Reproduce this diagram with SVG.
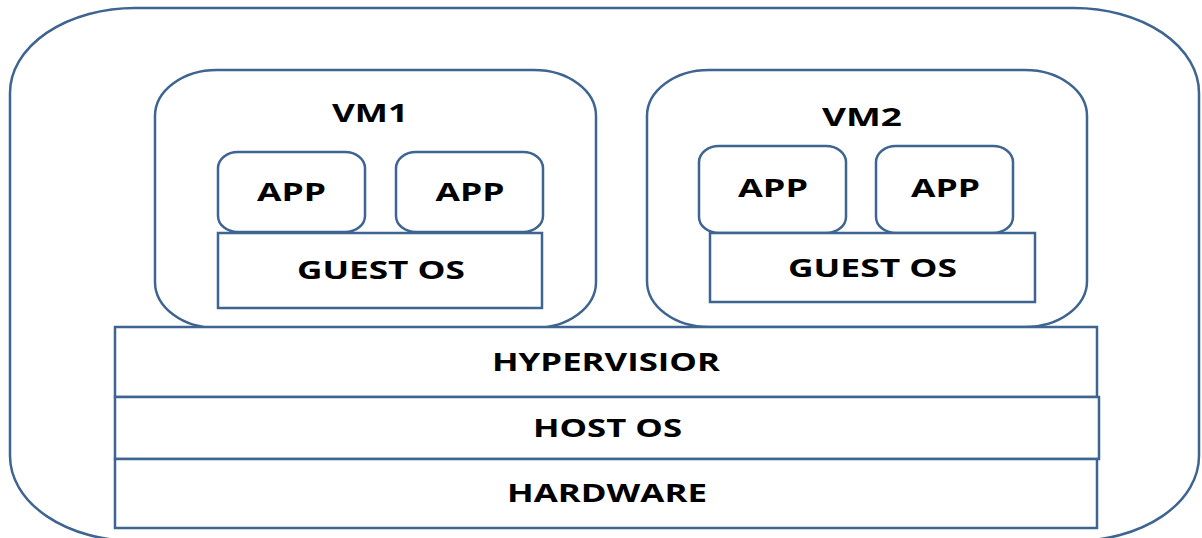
<svg xmlns="http://www.w3.org/2000/svg" width="1202" height="538" viewBox="0 0 1202 538">
  <style>
    .box { fill: #ffffff; stroke: #3e6491; stroke-width: 2.5; }
    .lbl { font-family: "Open Sans", "Liberation Sans", sans-serif; font-weight: 700; font-size: 24.5px; fill: #000000; text-anchor: middle; }
  </style>
  <rect width="1202" height="538" fill="#ffffff"/>

  <!-- host machine boundary -->
  <g id="host">
    <rect class="box" x="10" y="8" width="1189" height="533" rx="125" ry="85"/>
  </g>

  <!-- virtual machine 1 -->
  <g id="vm1">
    <rect class="box" x="155" y="70" width="441" height="258" rx="62" ry="46"/>
    <text class="lbl" x="370" y="122" textLength="76" lengthAdjust="spacingAndGlyphs">VM1</text>
  </g>
  <g id="vm1-app1">
    <rect class="box" x="218" y="152" width="147" height="80" rx="20" ry="16"/>
    <text class="lbl" x="291.5" y="201" textLength="69" lengthAdjust="spacingAndGlyphs">APP</text>
  </g>
  <g id="vm1-app2">
    <rect class="box" x="396" y="152" width="147" height="80" rx="20" ry="16"/>
    <text class="lbl" x="470" y="201" textLength="69" lengthAdjust="spacingAndGlyphs">APP</text>
  </g>
  <g id="vm1-guest-os">
    <rect class="box" x="218" y="233" width="324" height="75"/>
    <text class="lbl" x="381" y="279" textLength="168" lengthAdjust="spacingAndGlyphs">GUEST OS</text>
  </g>

  <!-- virtual machine 2 -->
  <g id="vm2">
    <rect class="box" x="647" y="70" width="440" height="257" rx="62" ry="46"/>
    <text class="lbl" x="862" y="126" textLength="80" lengthAdjust="spacingAndGlyphs">VM2</text>
  </g>
  <g id="vm2-app1">
    <rect class="box" x="699" y="146" width="147" height="87" rx="20" ry="16"/>
    <text class="lbl" x="773" y="197" textLength="70" lengthAdjust="spacingAndGlyphs">APP</text>
  </g>
  <g id="vm2-app2">
    <rect class="box" x="876" y="146" width="137" height="87" rx="20" ry="16"/>
    <text class="lbl" x="945.5" y="197" textLength="69" lengthAdjust="spacingAndGlyphs">APP</text>
  </g>
  <g id="vm2-guest-os">
    <rect class="box" x="710" y="233" width="325" height="69"/>
    <text class="lbl" x="872.5" y="277" textLength="169" lengthAdjust="spacingAndGlyphs">GUEST OS</text>
  </g>

  <!-- shared layers -->
  <g id="hypervisor">
    <rect class="box" x="115" y="327" width="982" height="70"/>
    <text class="lbl" x="606" y="371" textLength="228" lengthAdjust="spacingAndGlyphs">HYPERVISIOR</text>
  </g>
  <g id="host-os">
    <rect class="box" x="115" y="397" width="984" height="62"/>
    <text class="lbl" x="607.5" y="437" textLength="149" lengthAdjust="spacingAndGlyphs">HOST OS</text>
  </g>
  <g id="hardware">
    <rect class="box" x="115" y="459" width="982" height="69"/>
    <text class="lbl" x="607" y="502" textLength="200" lengthAdjust="spacingAndGlyphs">HARDWARE</text>
  </g>

  <g id="connectors"/>
</svg>
